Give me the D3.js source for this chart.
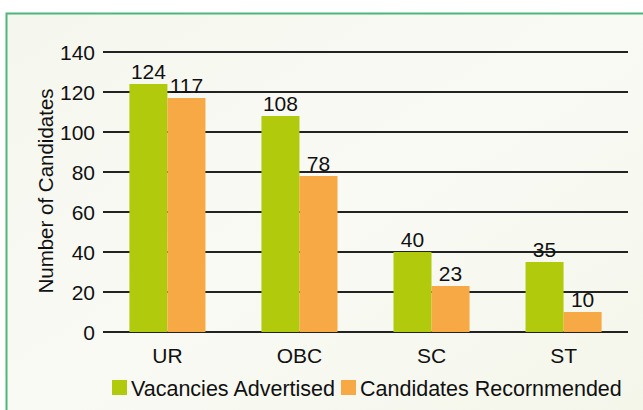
<!DOCTYPE html>
<html>
<head>
<meta charset="utf-8">
<script src="https://cdn.jsdelivr.net/npm/d3@7"></script>
<style>
  body { margin: 0; background: #fff; }
  svg { display: block; font-family: 'Liberation Sans', Arial, sans-serif; }
</style>
</head>
<body>
<div class="bar-chart"></div>
<script>
const categories = ['UR', 'OBC', 'SC', 'ST'];
const seriesNames = ['Vacancies Advertised', 'Candidates Recornmended'];
const vacancies = [124, 108, 40, 35];
const recommended = [117, 78, 23, 10];
const yTicks = [0, 20, 40, 60, 80, 100, 120, 140];

const colors = ['#b1cb0c', '#f6a944'];

const margin = { top: 52, right: 15, bottom: 78, left: 103 };
const W = 643;
const H = 410;
const width = 628 - margin.left;
const height = 332 - margin.top;
const fontSize = 21;

const svg = d3
  .select('.bar-chart')
  .append('svg')
  .attr('width', W)
  .attr('height', H);

// background panel with soft gradient
const defs = svg.append('defs');
const grad = defs
  .append('linearGradient')
  .attr('id', 'bg')
  .attr('x1', '0%')
  .attr('y1', '0%')
  .attr('x2', '100%')
  .attr('y2', '100%');
grad.append('stop').attr('offset', '0%').attr('stop-color', '#f5f7ee');
grad.append('stop').attr('offset', '50%').attr('stop-color', '#f9faf4');
grad.append('stop').attr('offset', '100%').attr('stop-color', '#f4f6ea');

svg
  .append('rect')
  .attr('x', 6.5)
  .attr('y', 13.5)
  .attr('width', W)
  .attr('height', H)
  .attr('fill', 'url(#bg)')
  .attr('stroke', '#4db67a')
  .attr('stroke-width', 2);

const g = svg
  .append('g')
  .attr('transform', `translate(${margin.left}, ${margin.top})`);

const x0 = d3
  .scaleBand()
  .domain(categories)
  .range([0, width])
  .paddingInner(0.424)
  .paddingOuter(0.2);
const x1 = d3
  .scaleBand()
  .domain(seriesNames)
  .range([0, x0.bandwidth()]);
const y = d3.scaleLinear().domain([0, 140]).range([height, 0]);

// gridlines
g.append('g')
  .selectAll('line')
  .data(yTicks)
  .enter()
  .append('line')
  .attr('x1', 0)
  .attr('x2', width)
  .attr('y1', (d) => y(d))
  .attr('y2', (d) => y(d))
  .attr('stroke', '#222')
  .attr('stroke-width', 2);

// y tick labels
g.append('g')
  .selectAll('text')
  .data(yTicks)
  .enter()
  .append('text')
  .attr('x', -8)
  .attr('y', (d) => y(d))
  .attr('dy', '0.36em')
  .attr('text-anchor', 'end')
  .attr('font-size', fontSize)
  .attr('fill', '#111')
  .text((d) => d);

// y label
svg
  .append('text')
  .attr('transform', 'rotate(-90)')
  .attr('x', -191)
  .attr('y', 53)
  .attr('text-anchor', 'middle')
  .attr('font-size', 20.5)
  .attr('fill', '#111')
  .text('Number of Candidates');

const rows = categories.map((c, i) => ({
  cat: c,
  values: [vacancies[i], recommended[i]],
}));

const groups = g
  .selectAll('.grp')
  .data(rows)
  .enter()
  .append('g')
  .attr('class', 'grp')
  .attr('transform', (d) => `translate(${x0(d.cat)}, 0)`);

groups
  .selectAll('rect')
  .data((d) => d.values.map((v, j) => ({ v, s: seriesNames[j], j })))
  .enter()
  .append('rect')
  .attr('x', (d) => x1(d.s))
  .attr('y', (d) => y(d.v))
  .attr('width', x1.bandwidth())
  .attr('height', (d) => height - y(d.v))
  .attr('fill', (d) => colors[d.j]);

groups
  .selectAll('.val')
  .data((d) => d.values.map((v, j) => ({ v, s: seriesNames[j], j })))
  .enter()
  .append('text')
  .attr('class', 'val')
  .attr('x', (d) => x1(d.s) + x1.bandwidth() / 2)
  .attr('y', (d) => y(d.v) - 5)
  .attr('text-anchor', 'middle')
  .attr('font-size', fontSize)
  .attr('fill', '#111')
  .text((d) => d.v);

// category labels
g.append('g')
  .selectAll('text')
  .data(categories)
  .enter()
  .append('text')
  .attr('x', (d) => x0(d) + x0.bandwidth() / 2)
  .attr('y', height + 31)
  .attr('text-anchor', 'middle')
  .attr('font-size', fontSize)
  .attr('fill', '#111')
  .text((d) => d);

// legend
const legend = svg.append('g').attr('transform', 'translate(112, 380)');
const legendX = [0, 229];
seriesNames.forEach((name, i) => {
  const item = legend.append('g').attr('transform', `translate(${legendX[i]}, 0)`);
  item
    .append('rect')
    .attr('width', 15)
    .attr('height', 15)
    .attr('fill', colors[i]);
  item
    .append('text')
    .attr('x', 19)
    .attr('y', 8)
    .attr('dy', '0.36em')
    .attr('font-size', 21.5)
    .attr('fill', '#111')
    .text(name);
});
</script>
</body>
</html>
